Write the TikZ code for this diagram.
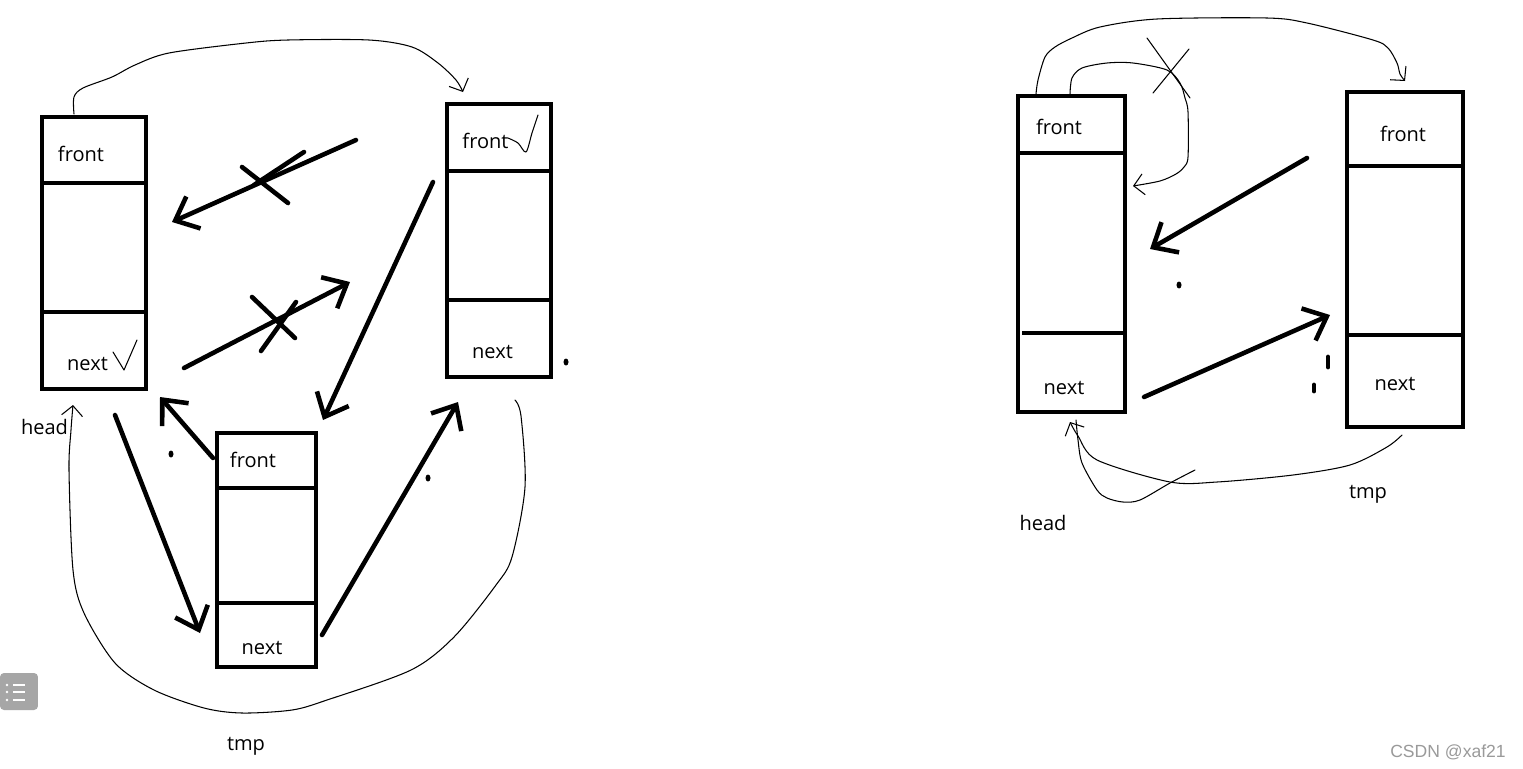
\documentclass[tikz,border=0pt]{standalone}
\usepackage{fontspec}
\setmainfont{Open Sans}
\usetikzlibrary{arrows.meta,shapes.geometric}
\definecolor{wmgray}{HTML}{9A9A9A}
\definecolor{icongray}{HTML}{A6A6A6}
\begin{document}
\begin{tikzpicture}[x=0.02cm,y=-0.02cm,
  cell/.style={draw, line width=2.4pt, inner sep=0pt, outer sep=0pt},
  bar/.style={line width=2.4pt},
  lbl/.style={font=\fontsize{11.4}{13}\selectfont, inner sep=0pt, anchor=base},
  thickarrow/.style={line width=2.6pt, line cap=round, line join=round,
    -{Straight Barb[length=0.4cm,width=0.7cm]}},
  thinline/.style={line width=0.6pt, line cap=round, line join=round},
  thinarrow/.style={thinline, -{Straight Barb[length=0.2cm,width=0.42cm]}},
  cross/.style={line width=2.6pt, line cap=round},
  dotmark/.style={ellipse, fill, inner sep=0pt, minimum width=0.1cm, minimum height=0.14cm},
  dashmark/.style={line width=2.8pt, line cap=round}
]
\useasboundingbox (0,0) rectangle (1523,768);
\fill[white] (0,0) rectangle (1523,768);

% ---------------- left diagram: boxes ----------------
\node[cell, minimum width=2.08cm, minimum height=5.44cm] (A) at (94,253) {};
\node[cell, minimum width=2.08cm, minimum height=5.46cm] (B) at (499,240.5) {};
\node[cell, minimum width=1.98cm, minimum height=4.68cm] (C) at (266.5,550) {};
\draw[bar] (A.west |- 0,183) -- (A.east |- 0,183);
\draw[bar] (A.west |- 0,312) -- (A.east |- 0,312);
\draw[bar] (B.west |- 0,171) -- (B.east |- 0,171);
\draw[bar] (B.west |- 0,300) -- (B.east |- 0,300);
\draw[bar] (C.west |- 0,488) -- (C.east |- 0,488);
\draw[bar] (C.west |- 0,603) -- (C.east |- 0,603);

\node[lbl] (Afront) at (81,161) {front};
\node[lbl] (Anext) at (87.5,370) {next};
\node[lbl] (Bfront) at (485.5,148) {front};
\node[lbl] (Bnext) at (492.5,358) {next};
\node[lbl] (Cfront) at (253,467) {front};
\node[lbl] (Cnext) at (262,654) {next};
\node[lbl] (head1) at (44.5,434) {head};
\node[lbl] (tmp1) at (246,750) {tmp};

% check marks
\draw[thinline] (113,352) -- (124,370) -- (137,340);
\draw[thinline] plot[smooth] coordinates {(508,138) (518,143) (526,152) (532,133) (538,115)};

% thick arrows
\coordinate (a1s) at (356,140); \coordinate (a1t) at (172,222);
\coordinate (a2s) at (184,368); \coordinate (a2t) at (350,282);
\coordinate (a3s) at (433,182); \coordinate (a3t) at (323,420);
\coordinate (a4s) at (213,458); \coordinate (a4t) at (160,397);
\coordinate (a5s) at (115,415); \coordinate (a5t) at (200,633);
\coordinate (a6s) at (322,635); \coordinate (a6t) at (458,402);
\draw[thickarrow] (a1s) -- (a1t);
\draw[thickarrow] (a2s) -- (a2t);
\draw[thickarrow] (a3s) -- (a3t);
\draw[thickarrow] (a4s) -- (a4t);
\draw[thickarrow] (a5s) -- (a5t);
\draw[thickarrow] (a6s) -- (a6t);

% crosses
\draw[cross] (242,167) -- (288,203);
\draw[cross] (304,152) -- (254,185);
\draw[cross] (252,297) -- (295,338);
\draw[cross] (296,302) -- (261,351);

% dots
\node[dotmark] (d1) at (171,454) {};
\node[dotmark] (d2) at (428,478) {};
\node[dotmark] (d3) at (566,362) {};

% thin curves
\coordinate (t1s) at (74,114);
\coordinate (t1t) at (463,92);
\draw[thinarrow] plot[smooth] coordinates {(t1s) (74,97) (83,88) (112,77) (135,65)
  (169,53) (246,43) (288,40) (369,40) (412,47) (438,63) (456,80) (t1t)};
\coordinate (t2s) at (515,400);
\coordinate (t2t) at (73,405);
\draw[thinarrow] plot[smooth] coordinates {(t2s) (521,416) (525,487) (512,557)
  (496,585) (454,637) (411,670) (327,700) (292,710) (242,713) (204,708) (154,690)
  (115,663) (84,613) (73,570) (69,470) (71,430) (t2t)};

% ---------------- right diagram ----------------
\node[cell, minimum width=2.14cm, minimum height=6.32cm] (D) at (1071.5,254) {};
\node[cell, minimum width=2.32cm, minimum height=6.70cm] (E) at (1405,259.5) {};
\draw[bar] (D.west |- 0,153) -- (D.east |- 0,153);
\draw[bar] (1022,333) -- (D.east |- 0,333);
\draw[bar] (E.west |- 0,166) -- (E.east |- 0,166);
\draw[bar] (E.west |- 0,335) -- (E.east |- 0,335);

\node[lbl] (Dfront) at (1059,134) {front};
\node[lbl] (Dnext) at (1064,394) {next};
\node[lbl] (Efront) at (1403,141) {front};
\node[lbl] (Enext) at (1395,390) {next};
\node[lbl] (head2) at (1043,530) {head};
\node[lbl] (tmp2) at (1368,498) {tmp};

\coordinate (a7s) at (1307,158); \coordinate (a7t) at (1150,249);
\coordinate (a8s) at (1144,397); \coordinate (a8t) at (1330,315);
\draw[thickarrow] (a7s) -- (a7t);
\draw[thickarrow] (a8s) -- (a8t);

\node[dotmark] (d4) at (1179,285) {};
\draw[dashmark] (1328,357) -- (1328,367);
\draw[dashmark] (1314,385) -- (1314,391);

\coordinate (t3s) at (1036,94);
\coordinate (t3t) at (1405,81);
\draw[thinarrow] plot[smooth] coordinates {(t3s) (1038,80) (1045,57) (1055,47)
  (1072,38) (1100,27) (1157,19) (1267,18) (1307,23) (1373,40) (1388,48) (1397,63)
  (1400,74) (t3t)};
\coordinate (t4s) at (1070,94);
\coordinate (t4t) at (1133,186);
\draw[thinarrow] plot[smooth] coordinates {(t4s) (1072,78) (1082,68) (1107,63)
  (1133,63) (1167,70) (1180,83) (1185,98) (1188,112) (1188,157) (1184,167)
  (1176,174) (1160,181) (t4t)};
\draw[thinline] (1147,38) -- (1190,98);
\draw[thinline] (1189,49) -- (1153,93);

\coordinate (t5s) at (1402,435);
\coordinate (t5t) at (1070,422);
\draw[thinarrow] plot[smooth] coordinates {(t5s) (1387,447) (1350,465) (1293,475)
  (1217,482) (1170,482) (1097,460) (1078,436) (t5t)};
\coordinate (t6s) at (1076,420);
\coordinate (t6e) at (1195,470);
\draw[thinline] plot[smooth] coordinates {(t6s) (1078,440) (1082,463) (1097,490)
  (1107,498) (1123,502) (1140,500) (1170,483) (t6e)};

% ---------------- watermark and icon ----------------
\node[font=\fontspec{Liberation Sans}\fontsize{10}{12}\selectfont, text=wmgray,
  inner sep=0pt, anchor=base] (wm) at (1448,757) {CSDN @xaf21};
\node[fill=icongray, rounded corners=0.08cm, minimum width=0.76cm,
  minimum height=0.74cm, inner sep=0pt] (icon) at (19,691.5) {};
\foreach \yy in {685,692,700} {
  \fill[white] (7,\yy) circle (1.3);
  \draw[white, line width=1.3pt] (13,\yy) -- (25,\yy);
}
\end{tikzpicture}
\end{document}
